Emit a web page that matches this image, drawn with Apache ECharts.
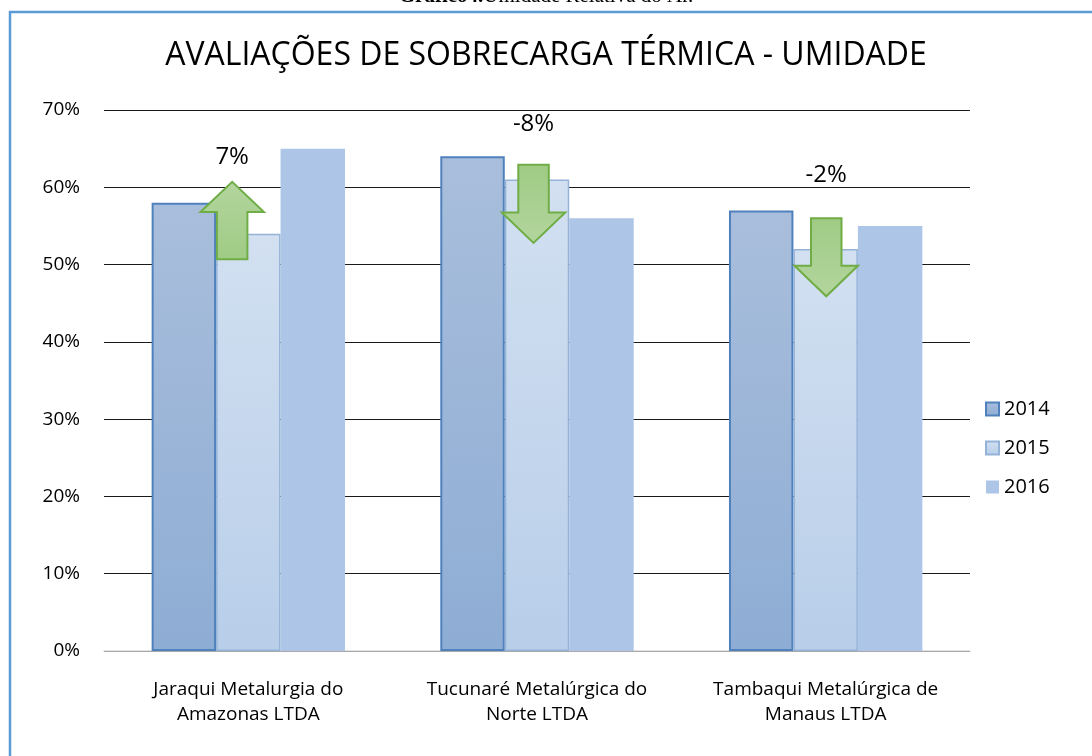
<!DOCTYPE html>
<html>
<head>
<meta charset="utf-8">
<title>Umidade</title>
<script src="https://cdn.jsdelivr.net/npm/echarts@6/dist/echarts.min.js"></script>
<style>
  html, body { margin: 0; padding: 0; background: #fff; }
  #chart { width: 1092px; height: 756px; }
</style>
</head>
<body>
<div id="chart"></div>
<script>
const categories = [
  'Jaraqui Metalurgia do\nAmazonas LTDA',
  'Tucunaré Metalúrgica do\nNorte LTDA',
  'Tambaqui Metalúrgica de\nManaus LTDA'
]
const years = ['2014', '2015', '2016']
const values2014 = [58, 64, 57]
const values2015 = [54, 61, 52]
const values2016 = [65, 56, 55]

// variação 2014 -> 2015, seta de/para (em %), posição do rótulo
const changeLabels = ['7%', '-8%', '-2%']
const arrowFrom = [50.7, 62.9, 56.0]
const arrowTo = [60.7, 52.8, 45.9]
const labelAt = [63.9, 68.2, 61.6]

const font = '"Open Sans", "Noto Sans", sans-serif'
const arrowShift = [-0.056, -0.012, 0.002]

const chart = echarts.init(document.getElementById('chart'))

const grad = (top, bottom) => new echarts.graphic.LinearGradient(0, 0, 0, 1, [
  { offset: 0, color: top },
  { offset: 1, color: bottom }
])

const arrowData = categories.map((c, i) => [i, arrowFrom[i], arrowTo[i], labelAt[i]])

const renderArrow = (params, api) => {
  const i = api.value(0)
  const band = api.size([1, 0])[0]
  const from = api.coord([i, api.value(1)])
  const to = api.coord([i, api.value(2)])
  const lab = api.coord([i, api.value(3)])
  const cx = from[0] + arrowShift[i] * band
  const w = band * 0.22
  const sw = w * 0.48
  const len = to[1] - from[1]
  const headY = to[1] - len * 0.39
  const pts = [
    [cx - sw / 2, from[1]],
    [cx + sw / 2, from[1]],
    [cx + sw / 2, headY],
    [cx + w / 2, headY],
    [cx, to[1]],
    [cx - w / 2, headY],
    [cx - sw / 2, headY]
  ]
  const up = len < 0
  return {
    type: 'group',
    children: [
      {
        type: 'polygon',
        shape: { points: pts },
        style: {
          fill: new echarts.graphic.LinearGradient(0, up ? 1 : 0, 0, up ? 0 : 1, [
            { offset: 0, color: '#9fcb84' },
            { offset: 1, color: '#b3d59e' }
          ]),
          stroke: '#70ad47',
          lineWidth: 2
        }
      },
      {
        type: 'text',
        x: cx,
        y: lab[1],
        style: {
          text: changeLabels[i],
          fill: '#000',
          font: '24px ' + font,
          align: 'center',
          verticalAlign: 'middle'
        }
      }
    ]
  }
}

const option = {
  backgroundColor: '#fff',
  animation: false,
  title: [
    {
      text: 'AVALIAÇÕES DE SOBRECARGA TÉRMICA - UMIDADE',
      left: 'center',
      top: 35,
      textStyle: { fontFamily: font, fontSize: 32, fontWeight: 'normal', color: '#000' }
    },
    {
      text: '{b|Gráfico4.}Umidade Relativa do Ar.',
      left: 'center',
      top: -19,
      textStyle: {
        fontFamily: '"Liberation Serif", serif',
        fontSize: 21,
        fontWeight: 'normal',
        color: '#000',
        rich: { b: { fontFamily: '"Liberation Serif", serif', fontSize: 21, fontWeight: 'bold' } }
      }
    }
  ],
  graphic: [
    {
      type: 'rect',
      shape: { x: 10, y: 12, width: 1200, height: 900 },
      style: { fill: 'none', stroke: '#5b9bd5', lineWidth: 2.5 },
      silent: true
    }
  ],
  legend: {
    orient: 'vertical',
    left: 980,
    top: 394,
    itemWidth: 13,
    itemHeight: 13,
    itemGap: 19,
    icon: 'rect',
    textStyle: { fontFamily: font, fontSize: 20, color: '#000' },
    data: years
  },
  grid: { left: 104, right: 122, top: 110, bottom: 105 },
  xAxis: {
    type: 'category',
    data: categories,
    axisTick: { show: false },
    axisLine: { lineStyle: { color: '#d9d9d9', width: 1.5 } },
    axisLabel: { interval: 0, fontFamily: font, fontSize: 19, color: '#000', lineHeight: 25, margin: 26 }
  },
  yAxis: {
    type: 'value',
    min: 0,
    max: 70,
    interval: 10,
    axisLabel: { formatter: '{value}%', fontFamily: font, fontSize: 19, color: '#000', margin: 24 },
    splitLine: { lineStyle: { color: '#1a1a1a', width: 1 } },
    axisLine: { show: false },
    axisTick: { show: false }
  },
  series: [
    {
      name: '2014',
      type: 'bar',
      data: values2014,
      barGap: '0%',
      barCategoryGap: '33%',
      itemStyle: { color: grad('#a9bedc', '#8eadd4'), borderColor: '#4f81bd', borderWidth: 2 }
    },
    {
      name: '2015',
      type: 'bar',
      data: values2015,
      itemStyle: { color: grad('#d2e0f1', '#b8cee9'), borderColor: '#95b3d7', borderWidth: 1.5 }
    },
    {
      name: '2016',
      type: 'bar',
      data: values2016,
      itemStyle: { color: '#adc5e6' }
    },
    {
      name: 'variação',
      type: 'custom',
      renderItem: renderArrow,
      data: arrowData,
      z: 10,
      silent: true
    }
  ]
}

chart.setOption(option)
</script>
</body>
</html>
